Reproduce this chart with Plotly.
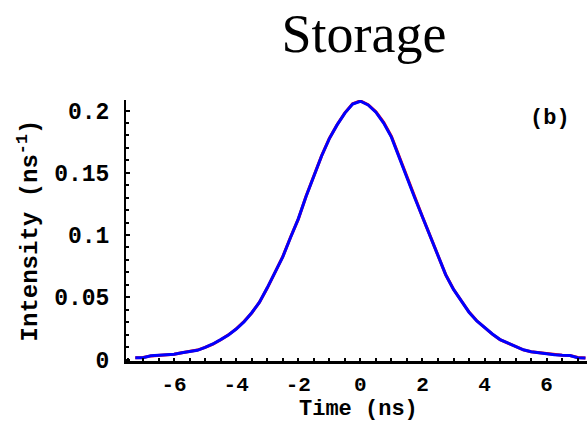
import plotly.graph_objects as go

# Time axis (ns) and pulse intensity (1/ns)
time_ns = [-7.25, -7.0, -6.75, -6.5, -6.25, -6.0, -5.75, -5.5, -5.25, -5.0,
           -4.75, -4.5, -4.25, -4.0, -3.75, -3.5, -3.25, -3.0, -2.75, -2.5,
           -2.25, -2.0, -1.75, -1.5, -1.25, -1.0, -0.75, -0.5, -0.25, 0.0,
           0.25, 0.5, 0.75, 1.0, 1.25, 1.5, 1.75, 2.0, 2.25, 2.5,
           2.75, 3.0, 3.25, 3.5, 3.75, 4.0, 4.25, 4.5, 4.75, 5.0,
           5.25, 5.5, 5.75, 6.0, 6.25, 6.5, 6.75, 7.0, 7.25]

measured = [0.0015, 0.0015, 0.0030, 0.0034, 0.0036, 0.0042, 0.0055, 0.0065, 0.0074, 0.0098,
            0.0125, 0.0160, 0.0197, 0.0245, 0.0302, 0.0376, 0.0460, 0.0576, 0.0697, 0.0825,
            0.0980, 0.1130, 0.1310, 0.1477, 0.1635, 0.1775, 0.1885, 0.1980, 0.2052, 0.2075,
            0.2045, 0.1987, 0.1900, 0.1787, 0.1620, 0.1460, 0.1300, 0.1145, 0.0990, 0.0830,
            0.0680, 0.0563, 0.0470, 0.0380, 0.0310, 0.0255, 0.0205, 0.0160, 0.0132, 0.0100,
            0.0078, 0.0062, 0.0052, 0.0046, 0.0038, 0.0034, 0.0032, 0.0015, 0.0012]

model = [0.0015, 0.0016, 0.0029, 0.0034, 0.0037, 0.0043, 0.0054, 0.0065, 0.0076, 0.0097,
         0.0124, 0.0159, 0.0198, 0.0246, 0.0305, 0.0374, 0.0461, 0.0574, 0.0696, 0.0826,
         0.0982, 0.1128, 0.1312, 0.1475, 0.1636, 0.1776, 0.1886, 0.1982, 0.2055, 0.2078,
         0.2047, 0.1990, 0.1905, 0.1792, 0.1628, 0.1462, 0.1301, 0.1146, 0.0991, 0.0831,
         0.0681, 0.0564, 0.0471, 0.0381, 0.0311, 0.0254, 0.0204, 0.0159, 0.0131, 0.0099,
         0.0077, 0.0062, 0.0054, 0.0047, 0.0038, 0.0034, 0.0032, 0.0016, 0.0012]

x_ticks = [-6, -4, -2, 0, 2, 4, 6]
y_ticks = [0, 0.05, 0.1, 0.15, 0.2]
y_tick_text = ["0", "0.05", "0.1", "0.15", "0.2"]

mono = "Liberation Mono, Courier New, monospace"

fig = go.Figure()
fig.add_trace(go.Scatter(x=time_ns, y=model, mode="lines",
                         line=dict(color="#ff0000", width=3), showlegend=False))
fig.add_trace(go.Scatter(x=time_ns, y=measured, mode="lines",
                         line=dict(color="#0000ff", width=3), showlegend=False))

fig.update_layout(
    width=588, height=421,
    margin=dict(l=126, r=1, t=100, b=60),
    paper_bgcolor="white", plot_bgcolor="white",
    showlegend=False,
    title=dict(text="Storage", xref="container", x=364 / 588, xanchor="center",
               yref="container", y=1 - 33 / 421, yanchor="middle",
               font=dict(family="Liberation Serif, Times New Roman, serif",
                         size=54, color="black")),
    annotations=[
        dict(text="(b)", xref="paper", yref="paper",
             x=(550 - 126) / 461, y=(361 - 119) / 261,
             xanchor="center", yanchor="middle", showarrow=False,
             font=dict(family=mono, size=22, color="black", weight="bold")),
        # x-axis title
        dict(text="Time (ns)", xref="paper", yref="paper",
             x=(358 - 126) / 461, y=(361 - 409) / 261,
             xanchor="center", yanchor="middle", showarrow=False,
             font=dict(family=mono, size=22, color="black", weight="bold")),
    ],
)

fig.update_xaxes(
    range=[-7.55, 7.3], showgrid=False, zeroline=False,
    showline=True, linecolor="black", linewidth=2.5,
    tickvals=x_ticks, ticktext=[str(v) for v in x_ticks],
    ticks="inside", ticklen=3, tickwidth=2, tickcolor="black",
    minor=dict(dtick=0.5, tick0=0, ticks="inside", ticklen=3, tickwidth=2,
               tickcolor="black", showgrid=False),
    tickfont=dict(family=mono, size=21, color="black", weight="bold"),
    ticklabelstandoff=2,
)

fig.update_yaxes(
    range=[-0.0012, 0.2085], showgrid=False, zeroline=False,
    showline=True, linecolor="black", linewidth=2,
    tickvals=y_ticks, ticktext=y_tick_text,
    ticks="inside", ticklen=4, tickwidth=2, tickcolor="black",
    minor=dict(dtick=0.01, tick0=0, ticks="inside", ticklen=3, tickwidth=2,
               tickcolor="black", showgrid=False),
    tickfont=dict(family=mono, size=23, color="black", weight="bold"),
    ticklabelstandoff=10,
    title=dict(text="Intensity (ns<sup>-1</sup>)", standoff=10,
               font=dict(family=mono, size=24, color="black", weight="bold")),
)

fig.write_html("out.html")
